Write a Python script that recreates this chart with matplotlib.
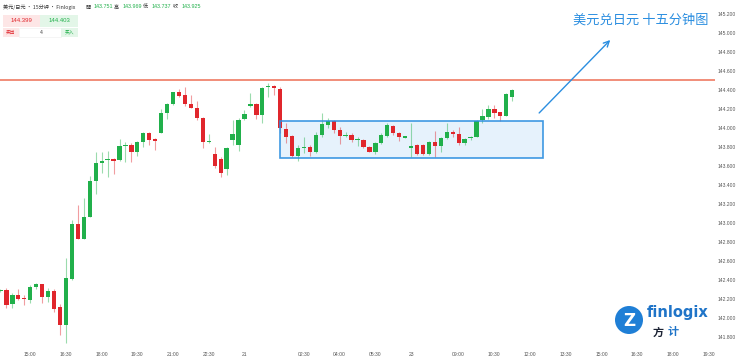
import matplotlib
matplotlib.use("Agg")
import matplotlib.pyplot as plt
from matplotlib.patches import Rectangle, Circle

plt.rcParams['font.family'] = ['Noto Sans CJK SC', 'DejaVu Sans']

# ---------------- data ----------------
opens = [142.285, 142.30, 142.145, 142.24, 142.21, 142.19, 142.33, 142.355, 142.225, 142.285,
         142.12, 141.93, 142.41, 142.99, 142.835, 143.065, 143.44, 143.63, 143.66, 143.675,
         143.66, 143.81, 143.82, 143.745, 143.85, 143.945, 143.88, 143.95, 144.155, 144.25,
         144.375, 144.345, 144.25, 144.215, 144.10, 143.853, 143.725, 143.67, 143.565, 143.875,
         143.82, 144.095, 144.23, 144.25, 144.135, 144.43, 144.445, 144.415, 143.985, 143.915,
         143.705, 143.79, 143.80, 143.75, 143.925, 144.035, 144.075, 143.98, 143.915, 143.93,
         143.874, 143.875, 143.795, 143.75, 143.845, 143.92, 144.02, 143.95, 143.89, 143.79,
         143.82, 143.82, 143.725, 143.855, 143.815, 143.89, 143.96, 143.935, 143.845, 143.89,
         143.905, 144.08, 144.112, 144.196, 144.165, 144.13, 144.325]
highs = [142.31, 142.32, 142.26, 142.305, 142.24, 142.347, 142.37, 142.361, 142.312, 142.31,
         142.15, 142.63, 143.03, 143.19, 143.26, 143.49, 143.75, 143.75, 143.76, 143.68,
         143.88, 143.855, 143.838, 143.866, 143.96, 143.96, 143.89, 144.205, 144.266, 144.382,
         144.415, 144.435, 144.347, 144.287, 144.12, 143.937, 143.80, 143.698, 143.80, 144.084,
         144.10, 144.19, 144.37, 144.26, 144.435, 144.477, 144.452, 144.43, 144.049, 143.926,
         143.82, 143.91, 143.82, 143.961, 144.16, 144.10, 144.084, 144.014, 143.961, 143.944,
         143.90, 143.88, 143.81, 143.856, 143.944, 144.049, 144.031, 143.961, 143.915, 144.05,
         143.828, 143.83, 143.866, 143.97, 143.90, 144.05, 143.979, 144.015, 143.89, 143.915,
         144.084, 144.195, 144.242, 144.242, 144.172, 144.365, 144.407]
lows = [142.27, 142.11, 142.11, 142.19, 142.14, 142.154, 142.31, 142.154, 142.172, 142.06,
        141.82, 141.74, 142.40, 142.83, 142.83, 143.06, 143.31, 143.53, 143.48, 143.515,
        143.655, 143.645, 143.645, 143.70, 143.80, 143.82, 143.77, 143.945, 144.09, 144.24,
        144.325, 144.23, 144.207, 144.084, 143.785, 143.845, 143.575, 143.487, 143.505, 143.82,
        143.761, 144.084, 144.224, 144.09, 144.056, 144.33, 144.347, 143.945, 143.845, 143.69,
        143.656, 143.733, 143.70, 143.733, 143.91, 143.996, 143.944, 143.831, 143.90, 143.856,
        143.81, 143.786, 143.743, 143.726, 143.83, 143.908, 143.926, 143.866, 143.89, 143.69,
        143.715, 143.72, 143.715, 143.69, 143.75, 143.88, 143.91, 143.82, 143.82, 143.87,
        143.90, 144.05, 144.091, 144.10, 144.077, 144.126, 144.287]
closes = [142.30, 142.14, 142.24, 142.195, 142.20, 142.33, 142.36, 142.225, 142.285, 142.10,
          141.93, 142.42, 142.99, 142.83, 143.065, 143.44, 143.63, 143.655, 143.67, 143.655,
          143.81, 143.82, 143.745, 143.85, 143.945, 143.875, 143.865, 144.16, 144.25, 144.375,
          144.34, 144.25, 144.215, 144.10, 143.855, 143.862, 143.595, 143.525, 143.785, 143.935,
          144.08, 144.145, 144.25, 144.135, 144.425, 144.445, 144.42, 144.00, 143.91, 143.705,
          143.79, 143.80, 143.75, 143.925, 144.04, 144.075, 143.98, 143.915, 143.93, 143.875,
          143.885, 143.795, 143.75, 143.845, 143.925, 144.03, 143.944, 143.90, 143.915, 143.81,
          143.725, 143.725, 143.855, 143.815, 143.89, 143.96, 143.933, 143.84, 143.88, 143.90,
          144.075, 144.125, 144.203, 144.154, 144.126, 144.357, 144.40]

tick_labels = ["15:00", "16:30", "18:00", "19:30", "21:00", "22:30", "21", "02:30", "04:00",
               "05:30", "23", "09:00", "10:30", "12:00", "13:30", "15:00", "16:30", "18:00", "19:30"]
tick_bars = [5, 11, 17, 23, 29, 35, 41, 51, 57, 63, 69, 77, 83, 89, 95, 101, 107, 113, 119]

y_ticks = [141.8, 142.0, 142.2, 142.4, 142.6, 142.8, 143.0, 143.2, 143.4, 143.6,
           143.8, 144.0, 144.2, 144.4, 144.6, 144.8, 145.0, 145.2]

resistance = 144.50
box_bars = (46.9, 91.2)
box_prices = (143.68, 144.073)
arrow_from = (90.2, 144.137)
arrow_to = (102.8, 144.947)

title = "美元兑日元 十五分钟图"
bid, ask = "144.399", "144.403"
ohlc_head = [("開", "143.751"), ("高", "143.969"), ("低", "143.737"), ("收", "143.925")]

GREEN = "#21b04b"
RED = "#e0262c"
BLUE = "#2b8ee0"

# ---------------- figure ----------------
W, H = 740, 360
fig = plt.figure(figsize=(W / 100, H / 100), dpi=100)
ax = fig.add_axes([0, 13 / H, 715 / W, 347 / H])

ax.add_patch(Rectangle((box_bars[0], box_prices[0]), box_bars[1] - box_bars[0],
                       box_prices[1] - box_prices[0], facecolor="#e6f2fc",
                       edgecolor='none', zorder=1))

for i, (o, h, l, c) in enumerate(zip(opens, highs, lows, closes)):
    col = GREEN if c >= o else RED
    ax.vlines(i, l, h, color=col, lw=0.8, alpha=0.45, zorder=2)
    lo, hi = min(o, c), max(o, c)
    ax.add_patch(Rectangle((i - 0.36, lo), 0.72, max(hi - lo, 0.006),
                           facecolor=col, edgecolor='none', zorder=3))

ax.axhline(resistance, color="#ef7a62", lw=1.2, zorder=4)

ax.add_patch(Rectangle((box_bars[0], box_prices[0]), box_bars[1] - box_bars[0],
                       box_prices[1] - box_prices[0], facecolor='none',
                       edgecolor=BLUE, lw=1.2, alpha=0.9, zorder=6))

ax.annotate("", xy=arrow_to, xytext=arrow_from,
            arrowprops=dict(arrowstyle="->", color=BLUE, lw=1.0, mutation_scale=10),
            zorder=6)

ax.set_xlim(-0.084, 120.08)
ax.set_ylim(141.695, 145.347)
ax.set_xticks(tick_bars)
ax.set_xticklabels(tick_labels)
ax.yaxis.tick_right()
ax.set_yticks(y_ticks)
ax.set_yticklabels([f"{v:.3f}" for v in y_ticks])
ax.tick_params(axis='both', length=0, labelsize=3.6, labelcolor="#555555")
ax.tick_params(axis='x', pad=3.5)
ax.tick_params(axis='y', pad=2)
for lab in ax.get_xticklabels() + ax.get_yticklabels():
    lab.set_fontfamily('Liberation Sans')
for s in ax.spines.values():
    s.set_visible(False)

# ---------------- overlay (pixel coords) ----------------
ov = fig.add_axes([0, 0, 1, 1], zorder=10)
ov.set_xlim(0, W)
ov.set_ylim(H, 0)
ov.axis('off')
ov.patch.set_alpha(0)

ov.text(3, 7, "美元/日元 · 15分钟 · Finlogix", fontsize=3.7, color="#333333",
        va='center', ha='left')
xs_lab = [86, 114, 143, 173]
xs_val = [94, 123, 152, 182]
for (lab, val), xl, xv in zip(ohlc_head, xs_lab, xs_val):
    ov.text(xl, 7, lab, fontsize=3.7, color="#333333", va='center', ha='left')
    ov.text(xv, 7, val, fontsize=3.9, color=GREEN, va='center', ha='left',
            family='Liberation Sans')

ov.add_patch(Rectangle((3, 15), 37, 12, facecolor="#fde6e6", edgecolor='none'))
ov.add_patch(Rectangle((40, 15), 38, 12, facecolor="#e3f6e8", edgecolor='none'))
ov.text(21.5, 21, bid, fontsize=4.3, color=RED, ha='center', va='center', family='Liberation Sans')
ov.text(59, 21, ask, fontsize=4.3, color=GREEN, ha='center', va='center', family='Liberation Sans')
ov.add_patch(Rectangle((3, 28), 16, 9, facecolor="#fde6e6", edgecolor='none'))
ov.add_patch(Rectangle((19, 28), 42, 9, facecolor="white", edgecolor="#eeeeee", lw=0.4))
ov.add_patch(Rectangle((61, 28), 17, 9, facecolor="#e3f6e8", edgecolor='none'))
ov.text(11, 32.5, "卖出", fontsize=3.4, color=RED, ha='center', va='center')
ov.text(41, 32.5, "4", fontsize=3.6, color="#444444", ha='center', va='center',
        family='Liberation Sans')
ov.text(69.5, 32.5, "买入", fontsize=3.4, color=GREEN, ha='center', va='center')

ov.text(641, 20, title, fontsize=9.5, color=BLUE, ha='center', va='center')

# logo
ov.add_patch(Circle((629, 320), 14, facecolor="#1f7fd6", edgecolor='none'))
ov.text(629, 320.5, "Z", fontsize=12, color="white", fontweight='bold',
        ha='center', va='center', family='DejaVu Sans')
ov.text(647, 313, "finlogix", fontsize=10.5, color="#1f74c8", fontweight='bold',
        ha='left', va='center', family='DejaVu Sans')
ov.text(653, 332, "方", fontsize=8, color="#1b2233", fontweight='bold', ha='left', va='center')
ov.text(668, 332, "计", fontsize=8, color="#1f74c8", fontweight='bold', ha='left', va='center')

fig.savefig("out.png", dpi=100)
